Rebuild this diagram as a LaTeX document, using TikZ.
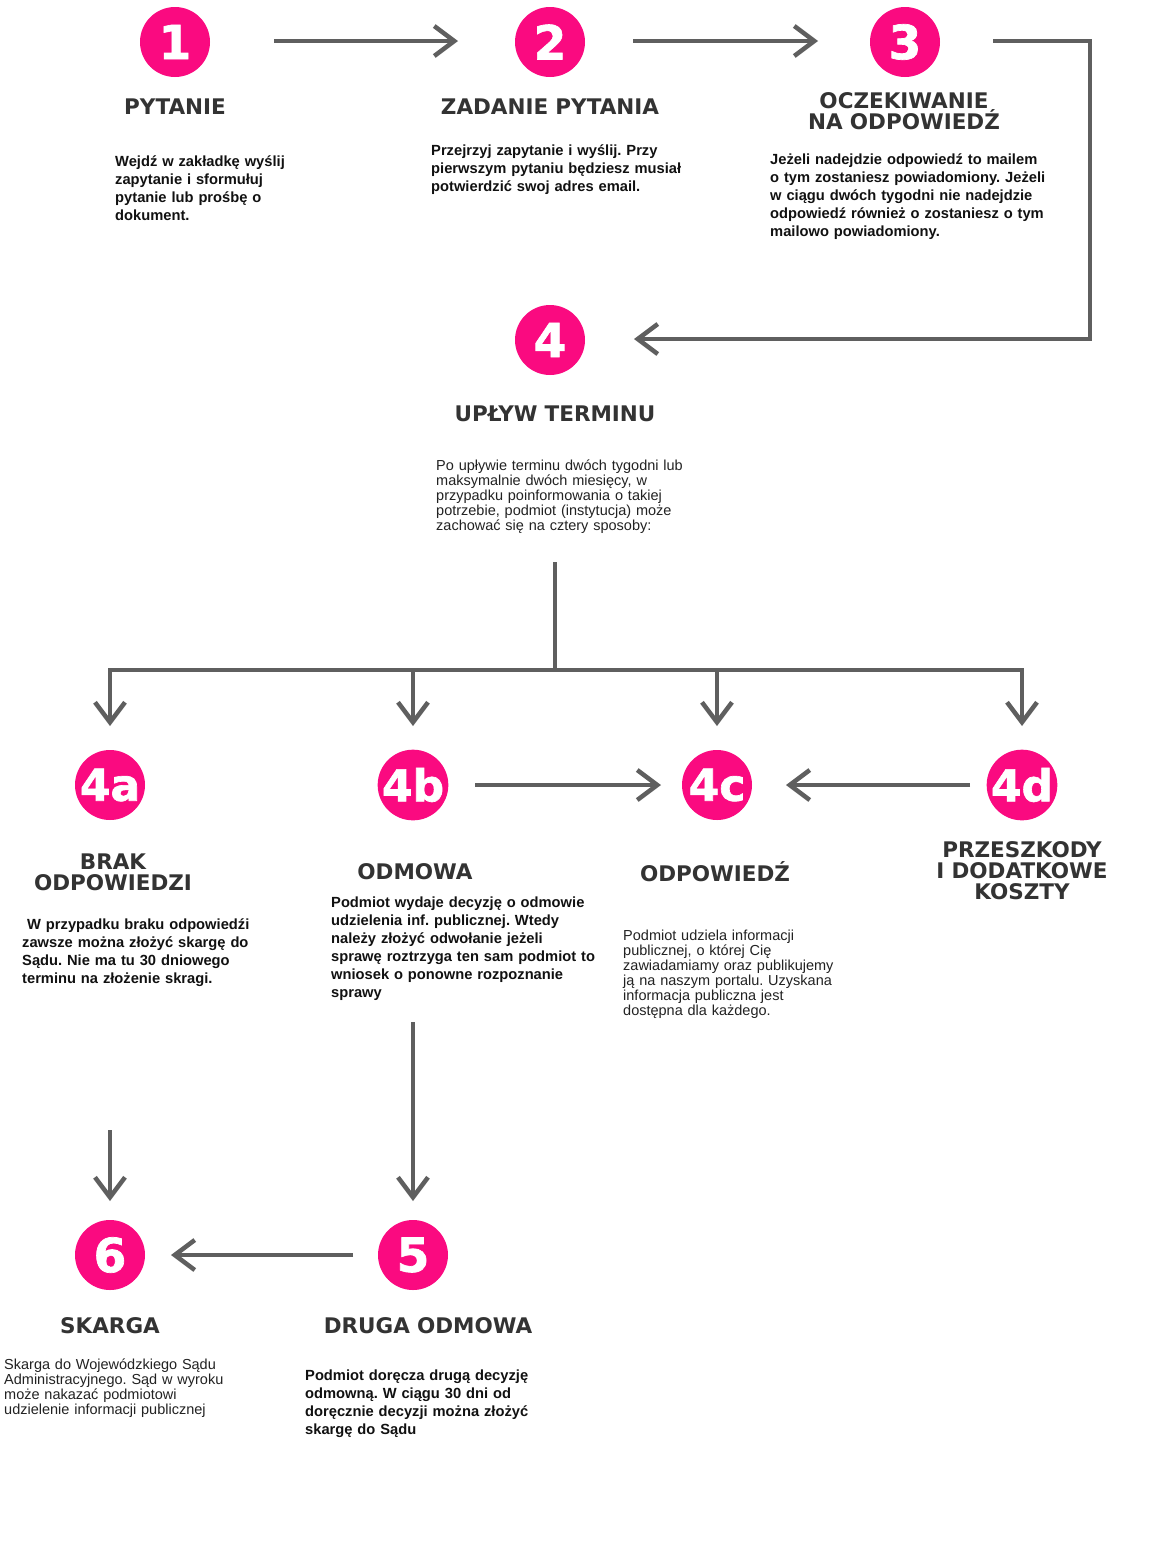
\documentclass[tikz,border=0pt]{standalone}
\usepackage{fontspec}
\setmainfont{Liberation Sans}
\newfontfamily\headfont{DejaVu Sans}
\newfontfamily\numfont{DejaVu Sans Bold}[FakeBold=1.5]
\usetikzlibrary{arrows.meta}
\frenchspacing
\definecolor{mag}{HTML}{FA0A80}
\definecolor{linec}{HTML}{5F5F5F}
\definecolor{headc}{HTML}{333333}
\definecolor{bodyc}{HTML}{111111}
\definecolor{plainc}{HTML}{222222}
\tikzset{
  num/.style={circle, fill=mag, minimum size=70pt, inner sep=0pt, text=white,
    font=\numfont\fontsize{47}{47}\selectfont},
  numb/.style={num, font=\numfont\fontsize{44}{44}\selectfont},
  head/.style={anchor=base, inner sep=0pt, text width=300pt, align=center, text=headc,
    font=\headfont\bfseries\fontsize{21.5}{21}\selectfont},
  body/.style={anchor=base west, inner sep=0pt, text width=400pt, align=left, text=bodyc,
    font=\bfseries\fontsize{14.7}{18}\selectfont},
  plain/.style={anchor=base west, inner sep=0pt, text width=400pt, align=left, text=plainc,
    font=\fontsize{14.5}{15}\selectfont},
  conn/.style={draw=linec, line width=4.5pt},
  arr/.style={conn, -{Straight Barb[length=20pt,width=30pt,line width=4.5pt]}},
}
\begin{document}
\begin{tikzpicture}[x=1pt,y=-1pt]
\useasboundingbox (0,0) rectangle (1153,1567);
\fill[white] (0,0) rectangle (1153,1567);

% circles
\node[num] (n1) at (175,42) {1};
\node[num] (n2) at (550,42) {2};
\node[num] (n3) at (905,42) {3};
\node[num] (n4) at (550,340) {4};
\node[numb] (n4a) at (110,785) {4a};
\node[numb] (n4b) at (413,785) {4b};
\node[numb] (n4c) at (717,785) {4c};
\node[numb] (n4d) at (1022,785) {4d};
\node[num] (n6) at (110,1255) {6};
\node[num] (n5) at (413,1255) {5};

% headings
\node[head] (h1) at (175,114) {PYTANIE};
\node[head] (h2) at (550,114) {ZADANIE PYTANIA};
\node[head, font=\headfont\bfseries\fontsize{21.5}{20}\selectfont] (h3) at (904,108) {OCZEKIWANIE\\NA ODPOWIEDŹ};
\node[head] (h4) at (555,421) {UPŁYW TERMINU};
\node[head] (h4a) at (113,869) {BRAK\\ODPOWIEDZI};
\node[head] (h4b) at (415,879) {ODMOWA};
\node[head] (h4c) at (715,881) {ODPOWIEDŹ};
\node[head] (h4d) at (1022,857) {PRZESZKODY\\I DODATKOWE\\KOSZTY};
\node[head] (h6) at (110,1333) {SKARGA};
\node[head] (h5) at (428,1333) {DRUGA ODMOWA};

% body texts
\node[body] (b1) at (115,166) {Wejdź w zakładkę wyślij\\zapytanie i sformułuj\\pytanie lub prośbę o\\dokument.};
\node[body] (b2) at (431,155) {Przejrzyj zapytanie i wyślij. Przy\\pierwszym pytaniu będziesz musiał\\potwierdzić swoj adres email.};
\node[body] (b3) at (770,164) {Jeżeli nadejdzie odpowiedź to mailem\\o tym zostaniesz powiadomiony. Jeżeli\\w ciągu dwóch tygodni nie nadejdzie\\odpowiedź również o zostaniesz o tym\\mailowo powiadomiony.};
\node[plain] (b4) at (436,470) {Po upływie terminu dwóch tygodni lub\\maksymalnie dwóch miesięcy, w\\przypadku poinformowania o takiej\\potrzebie, podmiot (instytucja) może\\zachować się na cztery sposoby:};
\node[body] (b4a) at (22,929) {\hspace*{5pt}W przypadku braku odpowiedźi\\zawsze można złożyć skargę do\\Sądu. Nie ma tu 30 dniowego\\terminu na złożenie skragi.};
\node[body] (b4b) at (331,907) {Podmiot wydaje decyzję o odmowie\\udzielenia inf. publicznej. Wtedy\\należy złożyć odwołanie jeżeli\\sprawę roztrzyga ten sam podmiot to\\wniosek o ponowne rozpoznanie\\sprawy};
\node[plain] (b4c) at (623,940) {Podmiot udziela informacji\\publicznej, o której Cię\\zawiadamiamy oraz publikujemy\\ją na naszym portalu. Uzyskana\\informacja publiczna jest\\dostępna dla każdego.};
\node[plain] (b6) at (4,1369) {Skarga do Wojewódzkiego Sądu\\Administracyjnego. Sąd w wyroku\\może nakazać podmiotowi\\udzielenie informacji publicznej};
\node[body] (b5) at (305,1380) {Podmiot doręcza drugą decyzję\\odmowną. W ciągu 30 dni od\\doręcznie decyzji można złożyć\\skargę do Sądu};

% connector end points
\coordinate (a12s) at (274,41);  \coordinate (a12e) at (458,41);
\coordinate (a23s) at (633,41);  \coordinate (a23e) at (818,41);
\coordinate (a34s) at (993,41);  \coordinate (a34c1) at (1090,41);
\coordinate (a34c2) at (1090,339); \coordinate (a34e) at (634,339);
\coordinate (trS) at (555,562);  \coordinate (trE) at (555,670);
\coordinate (barL) at (110,670); \coordinate (barR) at (1022,670);
\coordinate (bb) at (413,670);   \coordinate (bc) at (717,670);
\coordinate (ta) at (110,726);   \coordinate (tb) at (413,726);
\coordinate (tc) at (717,726);   \coordinate (td) at (1022,726);
\coordinate (bcS) at (475,785);  \coordinate (bcE) at (661,785);
\coordinate (dcS) at (970,785);  \coordinate (dcE) at (786,785);
\coordinate (b5S) at (413,1022); \coordinate (b5E) at (413,1201);
\coordinate (s6S) at (110,1130); \coordinate (s6E) at (110,1201);
\coordinate (f56S) at (353,1255); \coordinate (f56E) at (171,1255);

% connectors
\draw[arr] (a12s) -- (a12e);
\draw[arr] (a23s) -- (a23e);
\draw[arr, line join=miter] (a34s) -- (a34c1) -- (a34c2) -- (a34e);
\draw[conn] (trS) -- (trE);
\draw[conn, line cap=rect] (barL) -- (barR);
\draw[arr] (barL) -- (ta);
\draw[arr] (bb) -- (tb);
\draw[arr] (bc) -- (tc);
\draw[arr] (barR) -- (td);
\draw[arr] (bcS) -- (bcE);
\draw[arr] (dcS) -- (dcE);
\draw[arr] (b5S) -- (b5E);
\draw[arr] (s6S) -- (s6E);
\draw[arr] (f56S) -- (f56E);
\end{tikzpicture}
\end{document}
